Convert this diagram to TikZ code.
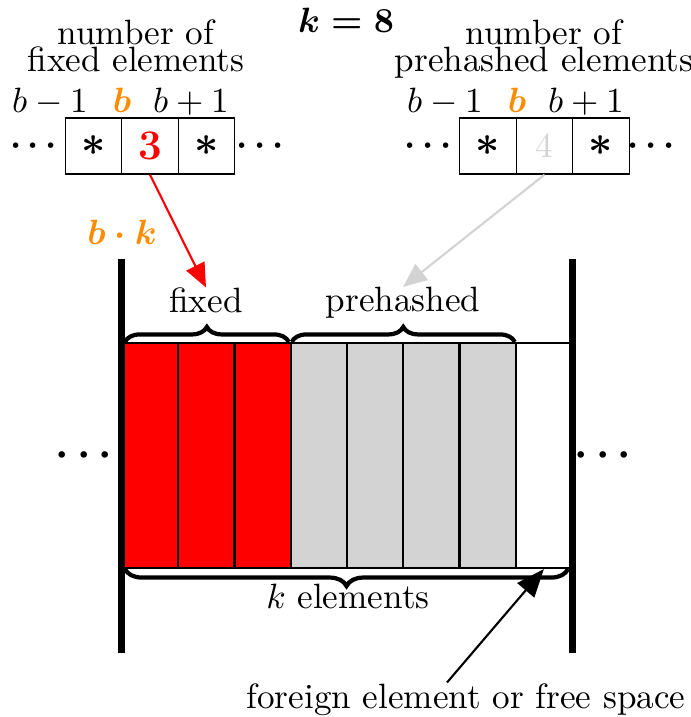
\documentclass[tikz,border=0pt]{standalone}
\usepackage{amsmath,amssymb}
\usepackage{xcolor}
\usepackage{tikz}
\usetikzlibrary{arrows.meta, positioning, calc, decorations.pathreplacing}

\definecolor{bucketorange}{RGB}{255,140,0}
\definecolor{prehashgray}{RGB}{211,211,211}

\tikzset{
	cnt/.style={draw, minimum width=0.565cm, minimum height=0.56cm, inner sep=0pt},
	slot/.style={draw, semithick, minimum width=0.5625cm, minimum height=2.25cm, inner sep=0pt},
	wall/.style={line width=2pt},
	brc/.style={decorate, decoration={brace, amplitude=0.15cm}, very thick},
	lbl/.style={anchor=base, inner sep=0pt},
	ptr/.style={-{Triangle[length=2.4mm,width=2mm]}, semithick}
}

\begin{document}
\begin{tikzpicture}
	\useasboundingbox (0,0) rectangle (6.91,7.17);
	\node [lbl] (kval) at (3.46,6.84) {$\boldsymbol{k=8}$};
	% counters for fixed elements
	\node [lbl] (fixhead1) at (1.36,6.72) {number of};
	\node [lbl] (fixhead2) at (1.36,6.45) {fixed elements};
	\node [lbl] (fi1) at (0.50,6.04) {$b-1$};
	\node [lbl] (fi2) at (1.22,6.04) {$\color{bucketorange}\boldsymbol{b}$};
	\node [lbl] (fi3) at (1.91,6.04) {$b+1$};
	\node [cnt] (f1) at (0.935,5.71) {\large$\boldsymbol{\ast}$};
	\node [cnt] (f2) at (1.50,5.71) {\large\bfseries\color{red}3};
	\node [cnt] (f3) at (2.065,5.71) {\large$\boldsymbol{\ast}$};
	\node [] (fdl) at (0.37,5.71) {$\boldsymbol{\cdots}$};
	\node [] (fdr) at (2.635,5.71) {$\boldsymbol{\cdots}$};
	% counters for prehashed elements
	\node [lbl] (prehead1) at (5.44,6.72) {number of};
	\node [lbl] (prehead2) at (5.44,6.45) {prehashed elements};
	\node [lbl] (pi1) at (4.45,6.04) {$b-1$};
	\node [lbl] (pi2) at (5.17,6.04) {$\color{bucketorange}\boldsymbol{b}$};
	\node [lbl] (pi3) at (5.86,6.04) {$b+1$};
	\node [cnt] (p1) at (4.88,5.71) {\large$\boldsymbol{\ast}$};
	\node [cnt] (p2) at (5.445,5.71) {\color{prehashgray}4};
	\node [cnt] (p3) at (6.01,5.71) {\large$\boldsymbol{\ast}$};
	\node [] (pdl) at (4.315,5.71) {$\boldsymbol{\cdots}$};
	\node [] (pdr) at (6.545,5.71) {$\boldsymbol{\cdots}$};
	\node [] (bk) at (1.22,4.85) {$\color{bucketorange}\boldsymbol{b\cdot k}$};
	% the bucket
	\foreach \i/\col in {1/red,2/red,3/red,4/prehashgray,5/prehashgray,6/prehashgray,7/prehashgray,8/white}
		\node [slot, fill=\col] (s\i) at ({1.22+(\i-0.5)*0.5625},2.615) {};
	\coordinate (wl1) at (1.215,4.58);
	\coordinate (wl2) at (1.215,0.64);
	\coordinate (wr1) at (5.725,4.58);
	\coordinate (wr2) at (5.725,0.64);
	\draw [wall] (wl1) -- (wl2);
	\draw [wall] (wr1) -- (wr2);
	\node [] (bdl) at (0.88,2.61) {\large$\boldsymbol{\cdots}$};
	\node [] (bdr) at (6.07,2.61) {\large$\boldsymbol{\cdots}$};
	\draw [brc] ([xshift=0.04cm]s1.north west) -- ([xshift=-0.03cm]s3.north east);
	\draw [brc] ([xshift=0.02cm]s4.north west) -- ([xshift=-0.02cm]s7.north east);
	\draw [brc, decoration={amplitude=0.17cm}] ([xshift=-0.05cm]s8.south east) -- ([xshift=0.04cm]s1.south west);
	\node [lbl] (fixlbl) at (2.06,4.04) {fixed};
	\node [lbl] (prelbl) at (4.03,4.05) {prehashed};
	\node [lbl] (klbl) at (3.48,1.08) {$k$ elements};
	\node [lbl] (foreign) at (4.66,0.09) {foreign element or free space};
	\draw [ptr, red] (f2.south) -- (fixlbl.north);
	\draw [ptr, prehashgray] (p2.south) -- (prelbl.north);
	\draw [ptr, -{Triangle[length=2.8mm,width=2.2mm]}] ([xshift=-0.19cm]foreign.north) -- (s8.south);
\end{tikzpicture}
\end{document}
